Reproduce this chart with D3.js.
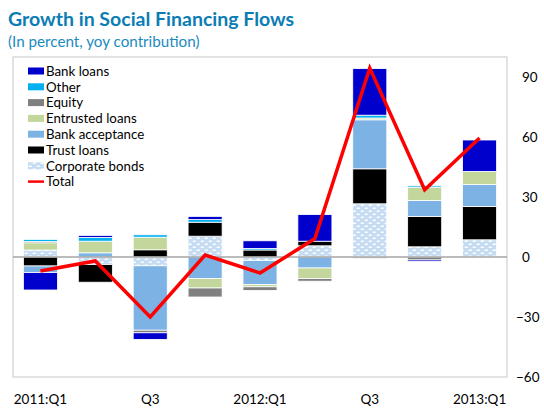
<!DOCTYPE html>
<html><head><meta charset="utf-8">
<script src="https://cdn.jsdelivr.net/npm/d3@7"></script>
<style>
body{margin:0;background:#fff;}
svg{display:block;font-family:Lato,"Open Sans",sans-serif;}
</style></head>
<body>
<svg id="chart" width="544" height="412"></svg>
<script>
const quarters = ["2011:Q1","2011:Q2","2011:Q3","2011:Q4","2012:Q1","2012:Q2","2012:Q3","2012:Q4","2013:Q1"];
const tickLabels = ["2011:Q1","","Q3","","2012:Q1","","Q3","","2013:Q1"];
const yTicks = [-60,-30,0,30,60,90];

const corporateBonds = [3.5, -3.8, -4.4, 10.4, -1.8, 5.6, 26.6, 5.1, 8.6];
const trustLoans     = [-4.5, -8.8, 3.6, 7.0, 3.5, 2.3, 17.5, 15.2, 16.7];
const bankAcceptance = [-3.3, 2.1, -32.2, -10.8, -11.9, -5.5, 24.5, 8.0, 10.9];
const entrustedLoans = [3.6, 5.8, 6.3, -4.7, -1.2, -5.3, 0.9, 6.6, 6.6];
const equity         = [0.7, 0, -1.3, -4.5, -1.8, -1.3, -0.6, -1.5, 0];
const other          = [1.0, 1.9, 1.2, 1.3, 0.8, 0, 1.4, 0.7, 0];
const bankLoans      = [-8.7, 1.0, -3.3, 1.6, 3.8, 13.3, 23.3, -0.7, 15.7];
const total          = [-7, -2, -30, 1, -8, 9.2, 94.5, 33.6, 59.5];

// stacking order bottom -> top
const seriesDefs = [
  {key:"Corporate bonds", values:corporateBonds, fill:"url(#bondPattern)"},
  {key:"Trust loans", values:trustLoans, fill:"#000000"},
  {key:"Bank acceptance", values:bankAcceptance, fill:"#7DB3E4"},
  {key:"Entrusted loans", values:entrustedLoans, fill:"#C3D79C"},
  {key:"Equity", values:equity, fill:"#808080"},
  {key:"Other", values:other, fill:"#00B0F0"},
  {key:"Bank loans", values:bankLoans, fill:"#0000CC"}
];

const rows = quarters.map((q,i)=>{
  const r = {q};
  seriesDefs.forEach(s=>r[s.key]=s.values[i]);
  return r;
});

const svg = d3.select("#chart");
const defs = svg.append("defs");
const pat = defs.append("pattern").attr("id","bondPattern")
  .attr("patternUnits","userSpaceOnUse").attr("width",8).attr("height",6);
pat.append("rect").attr("width",8).attr("height",6).attr("fill","#C5DCF3");
pat.append("rect").attr("x",0.5).attr("y",0.5).attr("width",3.5).attr("height",1.6).attr("rx",0.8).attr("fill","#fff");
pat.append("rect").attr("x",4.5).attr("y",3.5).attr("width",3.5).attr("height",1.6).attr("rx",0.8).attr("fill","#fff");

const pLeft = 13, pRight = 507, pTop = 57, pBottom = 377;
const x = d3.scaleBand().domain(quarters).range([pLeft,pRight]).paddingInner(0.38).paddingOuter(0.19);
const y = d3.scaleLinear().domain([-60,100]).range([pBottom,pTop]);

// frame
svg.append("rect").attr("x",pLeft).attr("y",pTop).attr("width",pRight-pLeft).attr("height",pBottom-pTop)
  .attr("fill","none").attr("stroke","#C8C8C8").attr("stroke-width",1);

// title
svg.append("text").attr("x",8).attr("y",26).attr("fill","#0C7DB4")
  .attr("font-size",19.5).attr("font-weight","bold").text("Growth in Social Financing Flows");
svg.append("text").attr("x",8).attr("y",47).attr("fill","#1A8AC0")
  .attr("font-size",15.2).text("(In percent, yoy contribution)");

// stacked bars
const stack = d3.stack().keys(seriesDefs.map(s=>s.key)).offset(d3.stackOffsetDiverging);
const stacked = stack(rows);
const g = svg.append("g");
stacked.forEach((layer,li)=>{
  g.append("g").attr("fill",seriesDefs[li].fill)
    .selectAll("rect").data(layer.filter(d=>d[1]-d[0]!==0)).join("rect")
    .attr("x",d=>x(d.data.q))
    .attr("width",x.bandwidth())
    .attr("y",d=>y(Math.max(d[0],d[1])))
    .attr("height",d=>Math.abs(y(d[0])-y(d[1])))
    .attr("stroke","#fff").attr("stroke-width",0.8);
});

// zero line
svg.append("line").attr("x1",pLeft).attr("x2",pRight).attr("y1",y(0)).attr("y2",y(0))
  .attr("stroke","#A6A6A6").attr("stroke-width",1.3);

// total line
const line = d3.line().x((d,i)=>x(quarters[i])+x.bandwidth()/2).y(d=>y(d));
svg.append("path").datum(total).attr("d",line).attr("fill","none")
  .attr("stroke","#FF0000").attr("stroke-width",3.5).attr("stroke-linejoin","miter");

// right axis
const yAxis = d3.axisRight(y).tickValues(yTicks).tickSize(0).tickFormat(d3.format("d"));
const ya = svg.append("g").attr("transform",`translate(${pRight},0)`).call(yAxis);
ya.select(".domain").remove();
ya.selectAll("text").attr("font-family","Lato, sans-serif").attr("font-size",13.5).attr("fill","#000")
  .attr("x",d=>d<0?9:15);

// bottom axis
const xAxis = d3.axisBottom(x).tickSize(0).tickFormat((d,i)=>tickLabels[i]);
const xa = svg.append("g").attr("transform",`translate(0,${pBottom})`).call(xAxis);
xa.select(".domain").remove();
xa.selectAll("text").attr("font-family","Lato, sans-serif").attr("font-size",13.5).attr("fill","#000").attr("dy","1.75em");

// legend
const legendItems = [...seriesDefs].reverse().map(s=>({key:s.key, fill:s.fill, type:"rect"}));
legendItems.push({key:"Total", fill:"#FF0000", type:"line"});
const lg = svg.append("g");
legendItems.forEach((it,i)=>{
  const cy = 71 + i*15.8;
  if(it.type==="rect"){
    lg.append("rect").attr("x",28).attr("y",cy-3.5).attr("width",16).attr("height",7).attr("fill",it.fill);
  } else {
    lg.append("line").attr("x1",28).attr("x2",44).attr("y1",cy).attr("y2",cy).attr("stroke",it.fill).attr("stroke-width",2.5);
  }
  lg.append("text").attr("x",46).attr("y",cy).attr("dy","0.36em").attr("font-size",13.3).attr("fill","#000").text(it.key);
});
</script>
</body></html>
